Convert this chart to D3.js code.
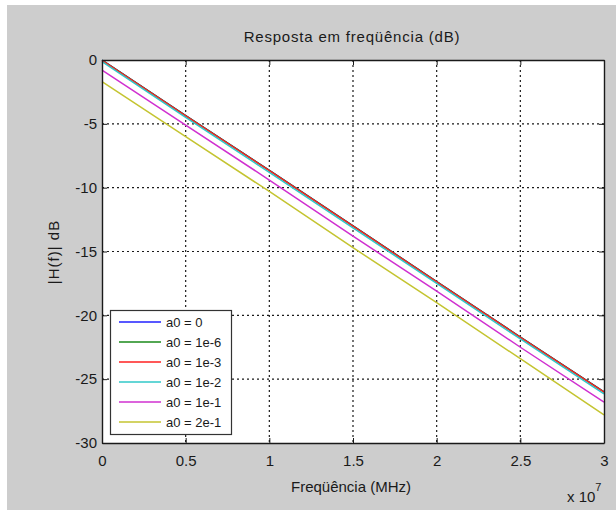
<!DOCTYPE html>
<html lang="pt">
<head>
<meta charset="utf-8">
<script src="https://cdn.jsdelivr.net/npm/d3@7"></script>
<style type="text/css">
body {
	margin: 0;
	background: #fff;
	font-family: "Liberation Sans", Arial, sans-serif;
}
.axis text {
	font-size: 15px;
	fill: #1a1a1a;
	font-family: "Liberation Sans", Arial, sans-serif;
}
.axis line, .axis path {
	stroke: #1a1a1a;
}
.grid line {
	stroke: #1a1a1a;
	stroke-width: 1.2;
	stroke-dasharray: 2,3;
}
</style>
</head>
<body>
<script type="text/javascript">

// frequency samples (Hz)
var freq = [0, 0.5e7, 1e7, 1.5e7, 2e7, 2.5e7, 3e7];

// |H(f)| in dB, one array per a0
var a0_0    = [0, -4.35, -8.65, -13.0, -17.35, -21.7, -26.0];
var a0_1e6  = [0, -4.35, -8.65, -13.0, -17.35, -21.7, -26.0];
var a0_1e3  = [-0.02, -4.37, -8.67, -13.02, -17.37, -21.72, -26.02];
var a0_1e2  = [-0.12, -4.5, -8.8, -13.15, -17.5, -21.85, -26.15];
var a0_1e1  = [-0.8, -5.1, -9.4, -13.8, -18.1, -22.5, -26.8];
var a0_2e1  = [-1.7, -6.0, -10.3, -14.7, -19.0, -23.4, -27.8];

var seriesNames = ["a0 = 0", "a0 = 1e-6", "a0 = 1e-3", "a0 = 1e-2", "a0 = 1e-1", "a0 = 2e-1"];
var seriesValues = [a0_0, a0_1e6, a0_1e3, a0_1e2, a0_1e1, a0_2e1];
var seriesColors = ["#2020ff", "#1a8a1a", "#ff2020", "#30c8c8", "#d030d0", "#c4c430"];

var xTicks = [0, 0.5e7, 1e7, 1.5e7, 2e7, 2.5e7, 3e7];
var xTickLabels = ["0", "0.5", "1", "1.5", "2", "2.5", "3"];
var yTicks = [0, -5, -10, -15, -20, -25, -30];

var width = 616;
var height = 510;

// plot box
var boxLeft = 102, boxRight = 604, boxTop = 60, boxBottom = 443;

var x = d3.scaleLinear().domain([0, 3e7]).range([boxLeft, boxRight]);
var y = d3.scaleLinear().domain([-30, 0]).range([boxBottom, boxTop]);

var svg = d3.select("body")
			.append("svg")
			.attr("width", width)
			.attr("height", height);

// grey figure background (thin white strip at top/left like the screenshot)
svg.append("rect")
	.attr("x", 7).attr("y", 5)
	.attr("width", width - 7).attr("height", height - 5)
	.style("fill", "#cdcdcd");

// white axes area
svg.append("rect")
	.attr("x", boxLeft).attr("y", boxTop)
	.attr("width", boxRight - boxLeft).attr("height", boxBottom - boxTop)
	.style("fill", "#fff");

// dotted grid
var grid = svg.append("g").attr("class", "grid");
grid.selectAll(".vx")
	.data(xTicks.slice(1, -1))
	.enter()
	.append("line")
	.attr("x1", function(d) { return x(d); })
	.attr("x2", function(d) { return x(d); })
	.attr("y1", boxTop)
	.attr("y2", boxBottom);
grid.selectAll(".hy")
	.data(yTicks.slice(1, -1))
	.enter()
	.append("line")
	.attr("x1", boxLeft)
	.attr("x2", boxRight)
	.attr("y1", function(d) { return y(d); })
	.attr("y2", function(d) { return y(d); });

// curves
var line = d3.line()
	.x(function(d, i) { return x(freq[i]); })
	.y(function(d) { return y(d); });

svg.selectAll(".curve")
	.data(seriesValues)
	.enter()
	.append("path")
	.attr("class", "curve")
	.attr("d", line)
	.style("fill", "none")
	.style("stroke", function(d, i) { return seriesColors[i]; })
	.style("stroke-width", 1.5);

// axes with inward ticks (matlab style)
svg.append("g")
	.attr("class", "axis")
	.attr("transform", "translate(0," + boxBottom + ")")
	.call(d3.axisBottom(x).tickValues(xTicks).tickSizeInner(-5).tickSizeOuter(0).tickPadding(12)
		.tickFormat(function(d, i) { return xTickLabels[i]; }));

svg.append("g")
	.attr("class", "axis")
	.attr("transform", "translate(0," + boxTop + ")")
	.call(d3.axisTop(x).tickValues(xTicks).tickSizeInner(-5).tickSizeOuter(0).tickFormat(""));

svg.append("g")
	.attr("class", "axis")
	.attr("transform", "translate(" + boxLeft + ",0)")
	.call(d3.axisLeft(y).tickValues(yTicks).tickSizeInner(-5).tickSizeOuter(0).tickPadding(5)
		.tickFormat(d3.format("d")));

svg.append("g")
	.attr("class", "axis")
	.attr("transform", "translate(" + boxRight + ",0)")
	.call(d3.axisRight(y).tickValues(yTicks).tickSizeInner(-5).tickSizeOuter(0).tickFormat(""));

svg.selectAll(".axis path").style("stroke-width", 1.4);

// use a plain hyphen for negatives like the original
svg.selectAll(".axis text").text(function() { return this.textContent.replace("\u2212", "-"); });

// titles
svg.append("text")
	.attr("x", 352)
	.attr("y", 42)
	.attr("text-anchor", "middle")
	.style("font-size", "15px")
	.style("letter-spacing", "0.8px")
	.style("fill", "#1a1a1a")
	.text("Resposta em freqüência (dB)");

svg.append("text")
	.attr("x", 351)
	.attr("y", 492)
	.attr("text-anchor", "middle")
	.style("font-size", "15px")
	.style("fill", "#1a1a1a")
	.text("Freqüência (MHz)");

svg.append("text")
	.attr("transform", "translate(59,252) rotate(-90)")
	.attr("text-anchor", "middle")
	.style("font-size", "15px")
	.style("letter-spacing", "1px")
	.style("fill", "#1a1a1a")
	.text("|H(f)| dB");

var expo = svg.append("text")
	.attr("x", 567)
	.attr("y", 502)
	.style("font-size", "15px")
	.style("fill", "#1a1a1a")
	.text("x 10");
expo.append("tspan")
	.attr("dy", -11)
	.style("font-size", "11px")
	.text("7");

// legend
var legendBox = svg.append("g").attr("class", "legend");
legendBox.append("rect")
	.attr("x", 110.5).attr("y", 310.5)
	.attr("width", 121).attr("height", 124)
	.style("fill", "#fff")
	.style("stroke", "#333")
	.style("stroke-width", 1.2);

var item = legendBox.selectAll(".item")
	.data(seriesNames)
	.enter()
	.append("g")
	.attr("class", "item")
	.attr("transform", function(d, i) { return "translate(0," + (322 + i * 20) + ")"; });

item.append("line")
	.attr("x1", 119).attr("x2", 161)
	.attr("y1", 0).attr("y2", 0)
	.style("stroke", function(d, i) { return seriesColors[i]; })
	.style("stroke-width", 1.5);

item.append("text")
	.attr("x", 166)
	.attr("y", 0)
	.attr("dy", "0.35em")
	.style("font-size", "13px")
	.style("fill", "#1a1a1a")
	.text(function(d) { return d; });

</script>
</body>
</html>
